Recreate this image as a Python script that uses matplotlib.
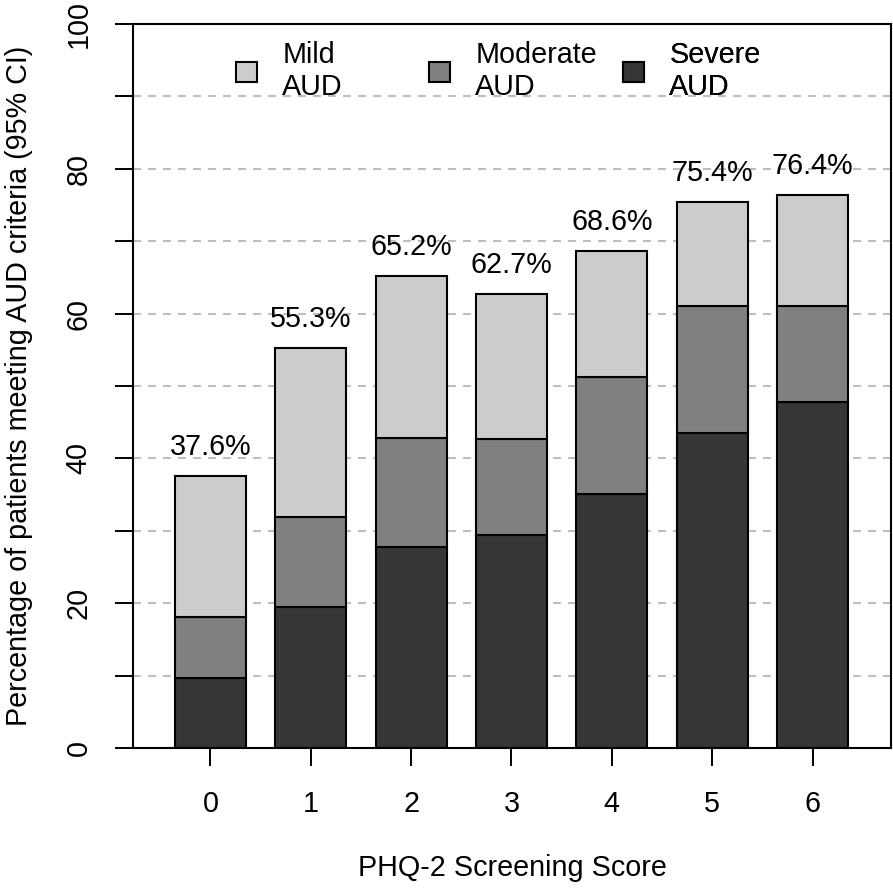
import numpy as np
import matplotlib
matplotlib.use("Agg")
from matplotlib import pyplot as plt
import matplotlib.patches as mpatches

plt.rcParams['font.family'] = ['Liberation Sans', 'DejaVu Sans']

scores = ['0', '1', '2', '3', '4', '5', '6']
severe = [9.6, 19.5, 27.8, 29.4, 35.1, 43.5, 47.8]
moderate = [8.5, 12.4, 15.0, 13.3, 16.2, 17.5, 13.2]
mild = [19.5, 23.4, 22.4, 20.0, 17.3, 14.4, 15.4]
totals = [37.6, 55.3, 65.2, 62.7, 68.6, 75.4, 76.4]
series_names = ['Mild\nAUD', 'Moderate\nAUD', 'Severe\nAUD']
colors = ['#cccccc', '#808080', '#363636']

fs = 20.7
x = np.arange(len(scores))
w = 0.706

fig = plt.figure(figsize=(8.93, 8.88), dpi=100)
ax = fig.add_axes([133/893, 1-748/888, (891-133)/893, (748-24)/888])

# dashed grid behind bars
for g in range(10, 100, 10):
    ax.axhline(g, color='#bebebe', lw=1.5, ls=(0, (3.8, 3.4)), zorder=0)

b0 = np.zeros(len(scores))
for vals, col in zip([severe, moderate, mild], [colors[2], colors[1], colors[0]]):
    ax.bar(x, vals, width=w, bottom=b0, color=col, edgecolor='black', lw=1.5, zorder=2)
    b0 = b0 + np.array(vals)

for xi, t in zip(x, totals):
    ax.text(xi, t + 2.9, f"{t:.1f}%", ha='center', va='baseline', fontsize=fs)

ax.set_xlim(-0.771, 6.781)
ax.set_ylim(0, 100)
ax.set_xticks(x)
ax.set_xticklabels(scores, fontsize=fs)
ax.set_yticks(np.arange(0, 101, 10))
ax.set_yticklabels([str(v) if v % 20 == 0 else '' for v in range(0, 101, 10)],
                   rotation=90, va='center', fontsize=fs)
ax.tick_params(axis='both', length=13, width=1.4, direction='out')
ax.tick_params(axis='x', pad=17)
ax.tick_params(axis='y', pad=16)
for s in ax.spines.values():
    s.set_linewidth(1.5)

ax.set_xlabel('PHQ-2 Screening Score', fontsize=fs, labelpad=26)
ax.set_ylabel('Percentage of patients meeting AUD criteria (95% CI)', fontsize=fs, labelpad=23)

# legend entries, one per column, evenly spaced like R horiz legend
box_x = [236, 429, 623]
for bx, name, col in zip(box_x, series_names, colors):
    h = mpatches.Patch(facecolor=col, edgecolor='black', lw=1.5)
    lg = ax.legend([h], [name], loc='center left', frameon=False, fontsize=fs,
                   bbox_to_anchor=((bx - 133) / 758, 1 - (71 - 24) / 724),
                   borderpad=0, borderaxespad=0, handlelength=0.73, handleheight=0.66,
                   handletextpad=0.88, labelspacing=0)
    ax.add_artist(lg)

fig.savefig('out.png', dpi=100)
